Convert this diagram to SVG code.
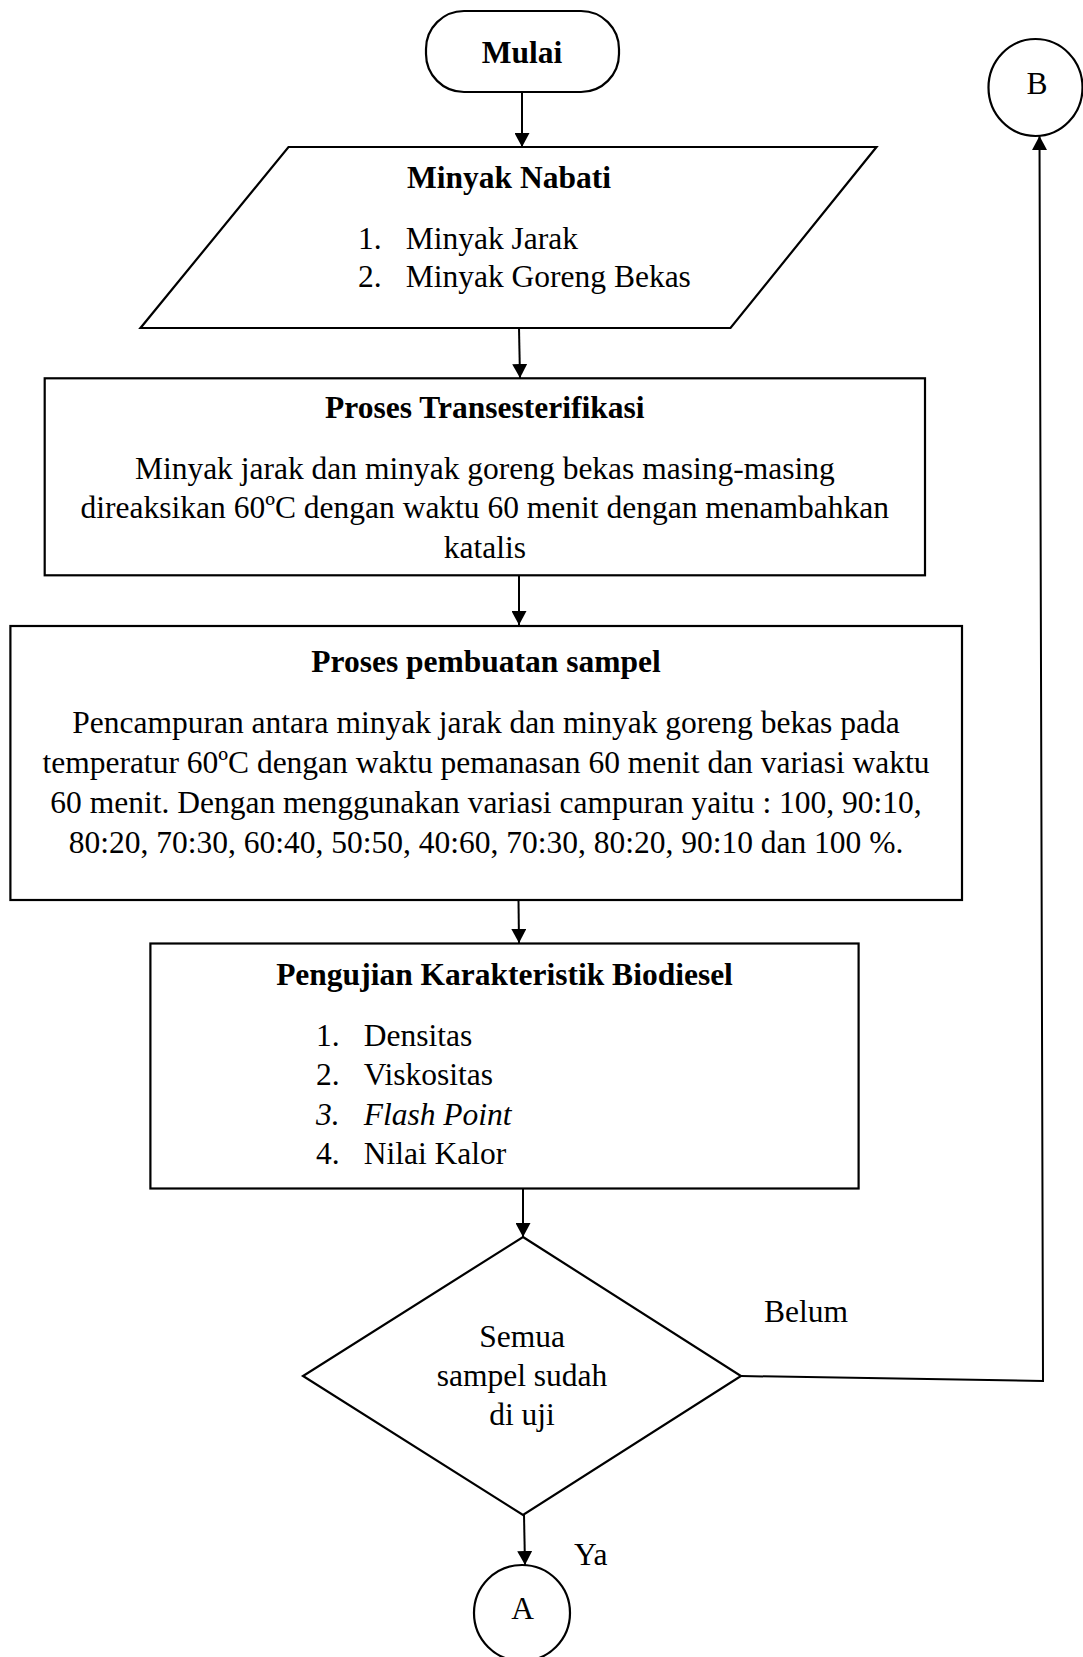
<svg xmlns="http://www.w3.org/2000/svg" width="1083" height="1657" viewBox="0 0 1083 1657">
<style>
.s{fill:#fff;stroke:#000;stroke-width:2.2}
.t{font-family:"Liberation Serif","Times New Roman",serif;font-size:31.5px;fill:#000}
.b{font-weight:bold}
.c{text-anchor:middle}
.i{font-style:italic}
.ln{fill:none;stroke:#000;stroke-width:2}
</style>
<defs>
<marker id="ah" viewBox="0 0 14 15" refX="14" refY="7.5" markerWidth="14" markerHeight="15" markerUnits="userSpaceOnUse" orient="auto">
<path d="M0,0 L14,7.5 L0,15 Z" fill="#000"/>
</marker>
</defs>
<rect width="1083" height="1657" fill="#fff"/>
<g id="connectors">
<line class="ln" x1="522" y1="92" x2="522" y2="147" marker-end="url(#ah)"/>
<line class="ln" x1="519" y1="328" x2="520" y2="378" marker-end="url(#ah)"/>
<line class="ln" x1="519" y1="576" x2="519" y2="625" marker-end="url(#ah)"/>
<line class="ln" x1="518.5" y1="900" x2="519" y2="943" marker-end="url(#ah)"/>
<line class="ln" x1="523" y1="1189" x2="523" y2="1237" marker-end="url(#ah)"/>
<line class="ln" x1="524" y1="1515" x2="525" y2="1565" marker-end="url(#ah)"/>
<polyline class="ln" points="741,1376 1043,1381 1039.5,136" marker-end="url(#ah)"/>
</g>
<g id="mulai">
<rect class="s" x="426" y="11" width="193" height="81" rx="38" ry="38"/>
<text class="t b c" x="522" y="63">Mulai</text>
</g>
<g id="B">
<ellipse class="s" cx="1035.5" cy="87.5" rx="47" ry="48.5"/>
<text class="t c" x="1037" y="94">B</text>
</g>
<g id="minyak-nabati">
<polygon class="s" points="288.5,147 876.5,147 730.5,328 140.5,328"/>
<text class="t b c" x="509" y="188">Minyak Nabati</text>
<text class="t" x="358" y="249">1.</text>
<text class="t" x="405.7" y="249">Minyak Jarak</text>
<text class="t" x="358" y="287">2.</text>
<text class="t" x="405.7" y="287">Minyak Goreng Bekas</text>
</g>
<g id="transesterifikasi">
<rect class="s" x="44.7" y="378.3" width="880.3" height="197"/>
<text class="t b c" x="484.8" y="418">Proses Transesterifikasi</text>
<text class="t c" x="484.8" y="479">Minyak jarak dan minyak goreng bekas masing-masing</text>
<text class="t c" x="484.8" y="518">direaksikan 60ºC dengan waktu 60 menit dengan menambahkan</text>
<text class="t c" x="484.8" y="557.5">katalis</text>
</g>
<g id="pembuatan-sampel">
<rect class="s" x="10.4" y="626" width="951.6" height="274"/>
<text class="t b c" x="486" y="672">Proses pembuatan sampel</text>
<text class="t c" x="486" y="733">Pencampuran antara minyak jarak dan minyak goreng bekas pada</text>
<text class="t c" x="486" y="773">temperatur 60ºC dengan waktu pemanasan 60 menit dan variasi waktu</text>
<text class="t c" x="486" y="812.5">60 menit. Dengan menggunakan variasi campuran yaitu : 100, 90:10,</text>
<text class="t c" x="486" y="852.5">80:20, 70:30, 60:40, 50:50, 40:60, 70:30, 80:20, 90:10 dan 100 %.</text>
</g>
<g id="pengujian">
<rect class="s" x="150.4" y="943.5" width="708.2" height="245"/>
<text class="t b c" x="504.5" y="985">Pengujian Karakteristik Biodiesel</text>
<text class="t" x="316" y="1045.7">1.</text>
<text class="t" x="363.7" y="1045.7">Densitas</text>
<text class="t" x="316" y="1085">2.</text>
<text class="t" x="363.7" y="1085">Viskositas</text>
<text class="t i" x="316" y="1124.5">3.</text>
<text class="t i" x="363.7" y="1124.5">Flash Point</text>
<text class="t" x="316" y="1164">4.</text>
<text class="t" x="363.7" y="1164">Nilai Kalor</text>
</g>
<g id="decision">
<polygon class="s" points="523,1237 741,1376 523,1515 303,1376"/>
<text class="t c" x="522" y="1347">Semua</text>
<text class="t c" x="522" y="1386">sampel sudah</text>
<text class="t c" x="522" y="1425">di uji</text>
</g>
<text class="t" x="764" y="1322">Belum</text>
<text class="t" x="574" y="1565">Ya</text>
<g id="A">
<circle class="s" cx="522" cy="1613" r="48"/>
<text class="t c" x="522.5" y="1619">A</text>
</g>
</svg>
